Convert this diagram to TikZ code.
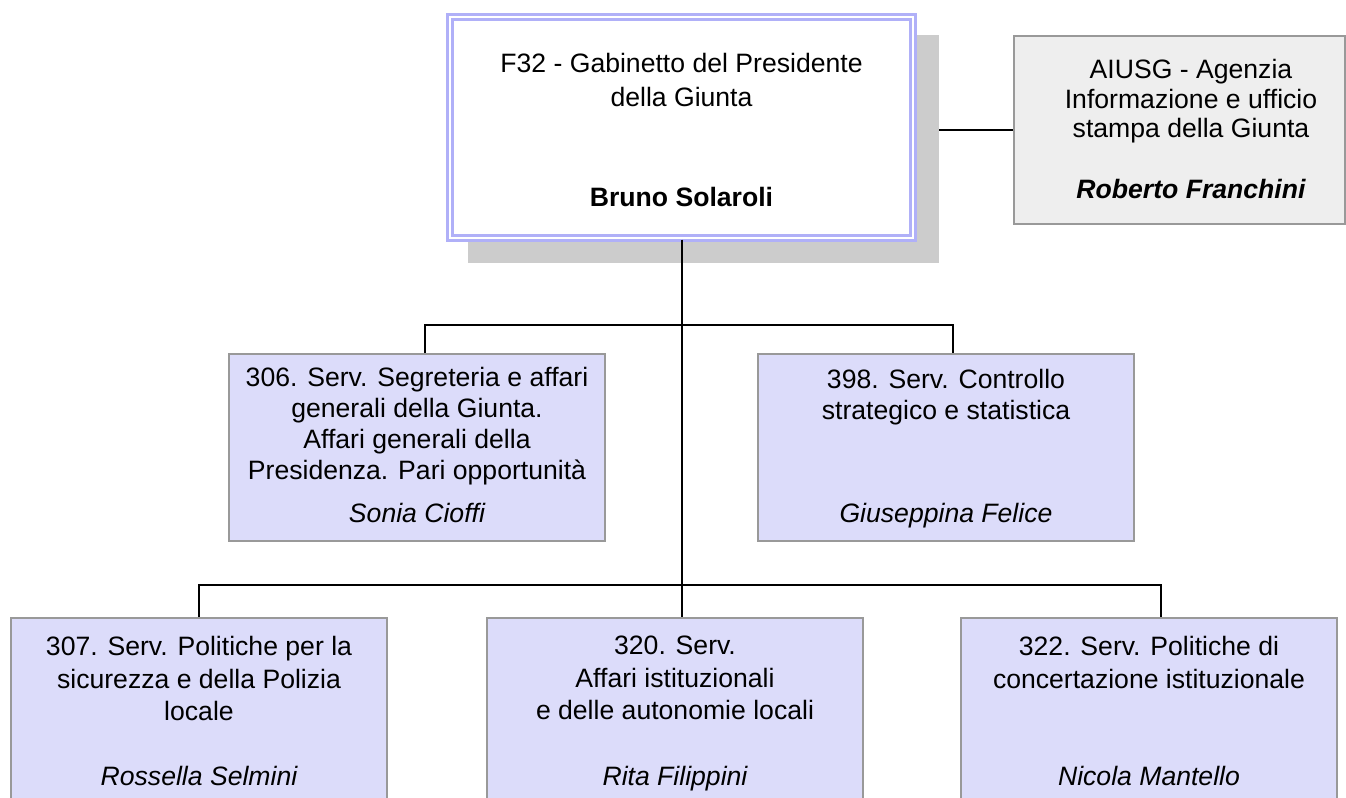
\documentclass[tikz,border=0pt]{standalone}
\usepackage{fontspec}
\setmainfont{Liberation Sans}
\usetikzlibrary{positioning}

\definecolor{framecol}{RGB}{176,176,248}
\definecolor{shadowgray}{RGB}{204,204,204}
\definecolor{unitfill}{RGB}{220,220,250}
\definecolor{staffgray}{RGB}{238,238,238}
\definecolor{bordergray}{RGB}{153,153,153}

\tikzset{
  unitbox/.style={draw=bordergray, fill=unitfill, line width=1pt, inner sep=0pt,
    minimum width=188pt, minimum height=93.5pt},
  staffbox/.style={draw=bordergray, fill=staffgray, line width=1pt, inner sep=0pt},
  shadowbox/.style={fill=shadowgray, inner sep=0pt},
  headbox/.style={draw=framecol, double=white, double distance=0.75pt, line width=1.6pt, fill=white, inner sep=0pt},
  boxtitle/.style={align=center, inner sep=0pt, font=\fontsize{13.3}{16.2}\selectfont},
  person/.style={inner sep=0pt, text height=9.5pt, text depth=0pt, font=\fontsize{13.3}{16}\selectfont\itshape},
  link/.style={line width=1pt},
}

\begin{document}
\begin{tikzpicture}[x=0.5pt, y=-0.5pt]
    \useasboundingbox (0,0) rectangle (1346,798);
    % head of the chart
    \node[shadowbox, minimum width=235.5pt, minimum height=114pt] (mainshadow) at (703.5,149) {};
    \node[headbox, minimum width=231.5pt, minimum height=110.5pt] (main) at (681.5,127.5) {};
    \node[boxtitle, below=18.5pt of main.north, font=\fontsize{13.3}{17}\selectfont] (maintitle) {F32 - Gabinetto del Presidente\\della Giunta};
    \node[person, below=86pt of main.north, font=\fontsize{13.3}{16}\selectfont\bfseries] (mainname) {Bruno Solaroli};
    % staff office
    \node[staffbox, minimum width=165.5pt, minimum height=94pt] (aiusg) at (1179.5,130) {};
    \node[boxtitle, below=12pt of aiusg.north, xshift=5.75pt, font=\fontsize{13.3}{14.75}\selectfont] (aiusgtitle) {AIUSG - Agenzia\\Informazione e ufficio\\stampa della Giunta};
    \node[person, below=72pt of aiusg.north, xshift=5.75pt, font=\fontsize{13.3}{16}\selectfont\bfseries\itshape] (aiusgname) {Roberto Franchini};
    % first level
    \node[unitbox] (s306) at (417,447.5) {};
    \node[boxtitle, below=7pt of s306.north, font=\fontsize{13.3}{15.4}\selectfont] (s306title) {306. Serv. Segreteria e affari\\generali della Giunta.\\Affari generali della\\Presidenza. Pari opportunità};
    \node[person, below=75pt of s306.north] (s306name) {Sonia Cioffi};
    \node[unitbox] (s398) at (946,447.5) {};
    \node[boxtitle, below=8pt of s398.north, font=\fontsize{13.3}{15.4}\selectfont] (s398title) {398. Serv. Controllo\\strategico e statistica};
    \node[person, below=75pt of s398.north] (s398name) {Giuseppina Felice};
    % second level
    \node[unitbox] (s307) at (199,711.5) {};
    \node[boxtitle, below=9.5pt of s307.north] (s307title) {307. Serv. Politiche per la\\sicurezza e della Polizia\\locale};
    \node[person, below=74.5pt of s307.north] (s307name) {Rossella Selmini};
    \node[unitbox] (s320) at (675,711.5) {};
    \node[boxtitle, below=9.5pt of s320.north] (s320title) {320. Serv.\\Affari istituzionali\\e delle autonomie locali};
    \node[person, below=74.5pt of s320.north] (s320name) {Rita Filippini};
    \node[unitbox] (s322) at (1149,711.5) {};
    \node[boxtitle, below=9.5pt of s322.north] (s322title) {322. Serv. Politiche di\\concertazione istituzionale};
    \node[person, below=74.5pt of s322.north] (s322name) {Nicola Mantello};
    % connectors
    \coordinate (bar1) at (681,325);
    \coordinate (bar2) at (681,585);
    \draw[link] (mainshadow.east |- aiusg.west) -- (aiusg.west);
    \draw[link] (main.south) -- (main.south |- s320.north);
    \draw[link] ([xshift=4pt]s306.north) |- (bar1) -| ([xshift=3.5pt]s398.north);
    \draw[link] (s307.north) |- (bar2) -| ([xshift=6pt]s322.north);
\end{tikzpicture}
\end{document}
